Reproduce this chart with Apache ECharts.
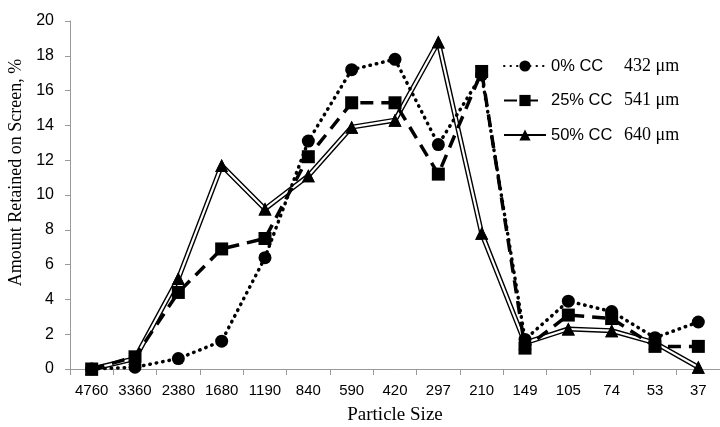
<!DOCTYPE html>
<html>
<head>
<meta charset="utf-8">
<script src="https://cdn.jsdelivr.net/npm/echarts@6/dist/echarts.min.js"></script>
<style>html,body{margin:0;padding:0;background:#fff}#c{width:720px;height:427px}</style>
</head>
<body>
<div id="c"></div>
<script>
var categories = ['4760','3360','2380','1680','1190','840','590','420','297','210','149','105','74','53','37'];
var cc0  = [0, 0.1, 0.6, 1.6, 6.4, 13.1, 17.2, 17.8, 12.9, 16.9, 1.7, 3.9, 3.3, 1.8, 2.7];
var cc25 = [0, 0.7, 4.4, 6.9, 7.5, 12.2, 15.3, 15.3, 11.2, 17.1, 1.2, 3.1, 2.9, 1.3, 1.3];
var cc50 = [0, 0.6, 5.2, 11.7, 9.2, 11.1, 13.9, 14.3, 18.8, 7.8, 1.5, 2.3, 2.2, 1.5, 0.1];
var seriesNames = ['0% CC', '25% CC', '50% CC'];
var meanSizes = ['432 μm', '541 μm', '640 μm'];
var yTicks = {min: 0, max: 20, interval: 2};

var chart = echarts.init(document.getElementById('c'));
var sans = 'Liberation Sans';
var serif = 'Liberation Serif';
chart.setOption({
  animation: false,
  grid: {left: 70, right: 0, top: 21, bottom: 58, containLabel: false, outerBoundsMode: 'none'},
  legend: {
    orient: 'vertical', left: 498, top: 52,
    itemWidth: 42, itemHeight: 14, itemGap: 16.5,
    data: seriesNames,
    formatter: function (n) { return '{a|' + n + '}{b|' + meanSizes[seriesNames.indexOf(n)] + '}'; },
    textStyle: {
      rich: {
        a: {fontFamily: sans, fontSize: 16.5, color: '#000', width: 73, lineHeight: 20},
        b: {fontFamily: serif, fontSize: 18, color: '#000', lineHeight: 20}
      }
    }
  },
  xAxis: {
    type: 'category', data: categories, boundaryGap: true,
    name: 'Particle Size', nameLocation: 'middle', nameGap: 37,
    nameTextStyle: {fontFamily: serif, fontSize: 19, color: '#000'},
    axisLine: {lineStyle: {color: '#9a9a9a', width: 1}},
    axisTick: {show: true, length: 6, lineStyle: {color: '#9a9a9a'}},
    axisLabel: {fontFamily: sans, fontSize: 15, color: '#000', margin: 14, interval: 0}
  },
  yAxis: {
    type: 'value', min: yTicks.min, max: yTicks.max, interval: yTicks.interval,
    name: 'Amount Retained on Screen, %', nameLocation: 'middle', nameGap: 43,
    nameTextStyle: {fontFamily: serif, fontSize: 18, color: '#000', padding: [0, 0, 0, 45]},
    axisLine: {show: true, lineStyle: {color: '#9a9a9a', width: 1}},
    axisTick: {show: true, length: 5, lineStyle: {color: '#9a9a9a'}},
    splitLine: {show: false},
    axisLabel: {fontFamily: sans, fontSize: 16, color: '#000', margin: 16}
  },
  series: [
    {
      name: '50% CC', type: 'line', data: cc50, z: 2,
      symbol: 'triangle', symbolSize: 13, itemStyle: {color: '#000'},
      lineStyle: {color: '#000', width: 5}
    },
    {
      name: '50% white', type: 'line', data: cc50, z: 3, symbol: 'none',
      lineStyle: {color: '#fff', width: 2.2}, silent: true
    },
    {
      name: '50% markers', type: 'line', data: cc50, z: 4,
      symbol: 'triangle', symbolSize: 13, itemStyle: {color: '#000'},
      lineStyle: {opacity: 0}
    },
    {
      name: '25% CC', type: 'line', data: cc25, z: 5,
      symbol: 'rect', symbolSize: 13, itemStyle: {color: '#000'},
      lineStyle: {color: '#000', width: 3.5, type: [13, 8]}
    },
    {
      name: '0% CC', type: 'line', data: cc0, z: 6,
      symbol: 'circle', symbolSize: 13, itemStyle: {color: '#000'},
      lineStyle: {color: '#000', width: 3.5, type: [0.5, 6], cap: 'round'}
    }
  ]
});
</script>
</body>
</html>
